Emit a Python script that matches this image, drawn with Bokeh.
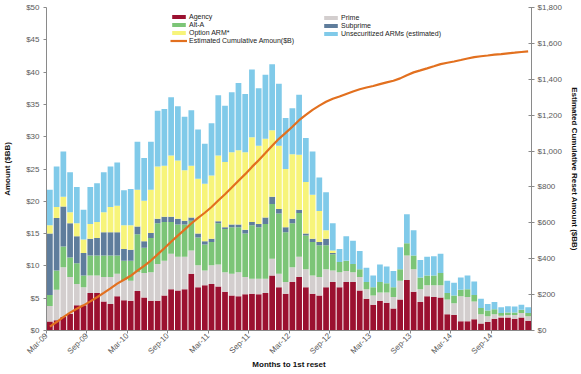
import math
from bokeh.plotting import figure
from bokeh.models import (Range1d, LinearAxis, FixedTicker, NumeralTickFormatter,
                          Legend, ColumnDataSource)
from bokeh.embed import file_html
from bokeh.resources import INLINE

# ---- data (USD billions per month of first reset, Mar-09 .. Feb-15) ----
tick_labels = ["Mar-09", "Sep-09", "Mar-10", "Sep-10", "Mar-11", "Sep-11",
               "Mar-12", "Sep-12", "Mar-13", "Sep-13", "Mar-14", "Sep-14"]

agency = [1.4, 1.6, 2.1, 2.6, 3.9, 3.9, 5.8, 5.8, 4.5, 4.1, 5.3, 4.7,
          4.6, 6.1, 5.1, 4.6, 4.6, 5.4, 6.4, 6.2, 6.4, 8.8, 6.7, 7.0,
          7.2, 6.8, 6.0, 5.4, 5.3, 5.6, 5.7, 5.6, 5.8, 8.5, 6.7, 5.7,
          7.5, 8.3, 6.7, 5.7, 5.4, 6.7, 7.5, 6.7, 7.5, 7.5, 6.2, 4.9,
          4.0, 4.6, 4.3, 3.4, 4.8, 7.8, 6.0, 4.4, 5.3, 5.2, 5.1, 2.5,
          2.4, 1.45, 1.45, 1.75, 1.1, 1.3, 1.8, 2.0, 2.0, 1.8, 2.0, 1.5]

prime = [2.4, 4.7, 7.7, 5.7, 3.3, 2.8, 2.7, 2.7, 3.8, 4.2, 3.5, 3.1,
         3.1, 2.9, 3.8, 4.4, 5.7, 5.4, 5.5, 5.2, 5.0, 3.6, 3.4, 2.3,
         2.9, 3.4, 3.0, 3.4, 3.7, 2.7, 2.3, 2.4, 2.2, 2.6, 2.1, 1.8,
         2.3, 3.1, 2.8, 2.8, 2.9, 2.8, 1.8, 2.3, 1.7, 1.5, 2.1, 1.5,
         1.4, 1.3, 1.6, 1.8, 2.9, 3.8, 3.5, 2.0, 1.7, 1.8, 1.9, 2.3,
         1.8, 3.85, 3.75, 2.75, 1.4, 0.9, 0.7, 0.3, 0.4, 0.6, 0.7, 0.7]

alt_a = [1.7, 3.0, 3.2, 3.0, 3.2, 1.8, 3.1, 3.1, 3.3, 3.3, 2.8, 3.0,
         3.1, 5.9, 3.9, 5.3, 6.3, 6.0, 4.9, 5.0, 5.0, 4.6, 4.3, 4.0,
         3.6, 6.4, 6.7, 7.2, 7.0, 6.7, 8.3, 8.0, 8.5, 8.5, 9.3, 7.7,
         6.8, 6.8, 5.2, 5.2, 4.9, 3.7, 2.5, 1.6, 1.6, 1.3, 1.2, 1.1,
         1.3, 1.6, 1.4, 1.5, 1.8, 1.9, 2.1, 1.8, 1.5, 1.5, 1.9, 1.0,
         1.2, 1.0, 1.2, 1.0, 1.0, 0.9, 0.8, 0.4, 0.4, 0.4, 0.5, 0.5]

subprime = [9.5, 8.1, 6.2, 5.3, 4.2, 3.5, 2.6, 2.7, 3.6, 3.6, 3.6, 1.8,
            1.7, 1.2, 1.0, 0.8, 0.7, 0.8, 0.8, 0.9, 0.6, 0.5, 0.6, 0.5,
            0.5, 0.3, 0.3, 0.4, 0.4, 0.6, 0.5, 0.5, 1.0, 1.1, 0.7, 0.8,
            0.7, 0.5, 0.3, 0.5, 0.5, 1.0, 0.2, 0, 0, 0, 0, 0,
            0, 0, 0, 0, 0, 0, 0, 0, 0, 0, 0, 0,
            0, 0, 0, 0, 0, 0, 0, 0, 0, 0, 0, 0]

option_arm = [1.3, 1.7, 1.5, 1.7, 2.0, 2.1, 2.3, 2.5, 3.1, 3.9, 4.1, 3.7,
              3.8, 5.7, 6.3, 6.7, 8.1, 7.9, 9.5, 9.0, 7.8, 8.0, 8.5, 8.9,
              9.8, 10.2, 10.1, 11.2, 11.5, 12.0, 13.1, 12.1, 12.2, 10.3, 9.8, 9.0,
              10.0, 8.5, 8.0, 6.8, 4.8, 1.3, 0.4, 0, 0, 0, 0, 0,
              0, 0, 0, 0, 0, 0, 0, 0, 0, 0, 0, 0,
              0, 0, 0, 0, 0, 0, 0, 0, 0, 0, 0, 0]

unsecuritized = [5.5, 6.3, 7.0, 6.2, 5.6, 4.6, 5.7, 6.0, 6.2, 6.3, 6.7, 5.4,
                 5.6, 7.4, 6.6, 7.4, 8.6, 8.8, 9.0, 8.4, 8.3, 8.6, 7.6, 6.2,
                 8.1, 9.3, 8.7, 9.3, 10.4, 9.0, 10.5, 8.9, 9.9, 10.2, 9.6, 7.9,
                 7.1, 9.3, 6.8, 6.7, 5.2, 5.9, 4.2, 2.0, 3.8, 3.6, 2.8, 2.2,
                 1.8, 2.7, 2.6, 2.5, 3.4, 4.5, 3.9, 2.7, 2.9, 3.0, 3.0, 1.9,
                 2.0, 1.9, 2.1, 2.1, 1.4, 1.0, 1.1, 0.9, 0.95, 0.9, 0.8, 0.9]

cumulative = [21.8, 47.2, 74.9, 99.4, 121.6, 140.3, 162.5, 185.3, 209.8, 235.2, 261.2, 282.9,
              304.8, 334.0, 360.7, 389.9, 423.9, 458.2, 494.3, 529.0, 562.1, 596.2, 627.3, 656.2,
              688.3, 724.7, 759.5, 796.4, 834.7, 871.3, 911.7, 949.2, 988.8, 1030.0, 1068.2, 1101.1,
              1135.5, 1172.0, 1201.8, 1229.5, 1253.2, 1274.6, 1291.2, 1303.8, 1318.4, 1332.3, 1344.6, 1354.3,
              1362.8, 1373.0, 1382.9, 1392.1, 1405.0, 1423.0, 1438.5, 1449.4, 1460.8, 1472.3, 1484.2, 1491.9,
              1499.3, 1507.5, 1516.0, 1523.6, 1528.5, 1532.6, 1537.0, 1540.6, 1544.4, 1548.1, 1552.1, 1555.7]

# ---- styling ----
FONT = "Liberation Sans"
colors = ["#9B1130", "#D3CECE", "#7CC577", "#5F7D9C", "#F7F47A", "#80CAE9"]
line_color = "#E2701F"
stackers = ["agency", "prime", "alt_a", "subprime", "option_arm", "unsecuritized"]

n = len(agency)
source = ColumnDataSource(dict(
    x=[i + 0.5 for i in range(n)],
    agency=agency, prime=prime, alt_a=alt_a, subprime=subprime,
    option_arm=option_arm, unsecuritized=unsecuritized, cum=cumulative,
))

p = figure(width=581, height=374, x_range=Range1d(0, n), y_range=Range1d(0, 50),
           output_backend="svg", toolbar_location=None,
           min_border_left=42, min_border_right=49, min_border_top=7, min_border_bottom=44)
p.outline_line_color = None
p.xgrid.visible = False
p.ygrid.visible = False
p.extra_y_ranges = {"cum": Range1d(0, 1800)}

bars = p.vbar_stack(stackers, x="x", width=0.85, color=colors, line_color=None, source=source)
line = p.line(x="x", y="cum", source=source, y_range_name="cum",
              line_color=line_color, line_width=2.2)

# ---- axes ----
right = LinearAxis(y_range_name="cum", axis_label="Estimated Cumulative Reset Amount ($BB)")
p.add_layout(right, "right")

left = p.yaxis[0]
left.ticker = FixedTicker(ticks=[v * 5 for v in range(11)])
left.formatter = NumeralTickFormatter(format="$0")
left.axis_label = "Amount ($BB)"
right.ticker = FixedTicker(ticks=[v * 200 for v in range(10)])
right.formatter = NumeralTickFormatter(format="$0,0")

p.xaxis.ticker = FixedTicker(ticks=[6 * k for k in range(len(tick_labels))])
p.xaxis.major_label_overrides = {6 * k: lbl for k, lbl in enumerate(tick_labels)}
p.xaxis.major_label_orientation = math.pi / 4
p.xaxis.axis_label = "Months to 1st reset"

for ax in p.axis:
    ax.axis_line_color = "#8A8A8A"
    ax.major_tick_line_color = "#8A8A8A"
    ax.minor_tick_line_color = None
    ax.major_tick_out = 3
    ax.major_tick_in = 0
    ax.major_label_text_font = FONT
    ax.major_label_text_font_size = "8px"
    ax.major_label_text_color = "#595959"
    ax.axis_label_text_font = FONT
    ax.axis_label_text_font_size = "8px"
    ax.axis_label_text_font_style = "bold"
    ax.axis_label_text_color = "#111111"

left.major_label_standoff = 4
left.axis_label_standoff = 11
right.major_tick_in = 3
right.major_label_standoff = 3
right.axis_label_standoff = 5
p.xaxis.major_label_standoff = 1
p.xaxis.axis_label_standoff = -2

# ---- legends (two columns) ----
def style_legend(leg):
    leg.label_text_font = FONT
    leg.label_text_font_size = "7px"
    leg.label_text_color = "#222222"
    leg.glyph_width = 17
    leg.glyph_height = 5
    leg.label_height = 7
    leg.label_standoff = 2
    leg.spacing = 1
    leg.padding = 0
    leg.margin = 0
    leg.border_line_color = None
    leg.background_fill_alpha = 0

leg1 = Legend(items=[("Agency", [bars[0]]), ("Alt-A", [bars[2]]),
                     ("Option ARM*", [bars[4]]),
                     ("Estimated Cumulative Amoun($B)", [line])],
              location=(124, 286))
leg2 = Legend(items=[("Prime", [bars[1]]), ("Subprime", [bars[3]]),
                     ("Unsecuritized ARMs (estimated)", [bars[5]])],
              location=(276, 293))
style_legend(leg1)
style_legend(leg2)
p.add_layout(leg1)
p.add_layout(leg2)

open("out.html", "w").write(file_html(p, INLINE))
